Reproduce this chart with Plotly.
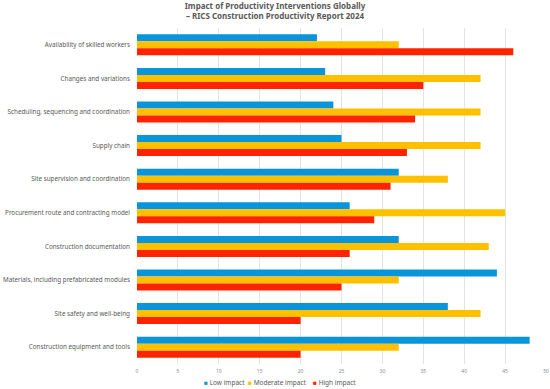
import plotly.graph_objects as go

categories = [
    "Availability of skilled workers",
    "Changes and variations",
    "Scheduling, sequencing and coordination",
    "Supply chain",
    "Site supervision and coordination",
    "Procurement route and contracting model",
    "Construction documentation",
    "Materials, including prefabricated modules",
    "Site safety and well-being",
    "Construction equipment and tools",
]
low_impact = [22, 23, 24, 25, 32, 26, 32, 44, 38, 48]
moderate_impact = [32, 42, 42, 42, 38, 45, 43, 32, 42, 32]
high_impact = [46, 35, 34, 33, 31, 29, 26, 25, 20, 20]
x_ticks = [0, 5, 10, 15, 20, 25, 30, 35, 40, 45, 50]
series_names = ["Low impact", "Moderate impact", "High impact"]
series_colors = ["#0A95DA", "#FFC000", "#FF2300"]

W, H = 550, 389
ML, MR, MT, MB = 137, 4, 28, 25
font_family = "Noto Sans, Open Sans, sans-serif"
fig = go.Figure()
for name, vals, col in zip(series_names, [low_impact, moderate_impact, high_impact], series_colors):
    fig.add_trace(go.Bar(y=categories, x=vals, name=name, orientation="h",
                         marker=dict(color=col, line=dict(width=0)), showlegend=False))

# compact legend (square swatch + label), centred under the chart
legend_left_px = [202, 246, 311]
plot_w = W - ML - MR
for name, col, px in zip(series_names, series_colors, legend_left_px):
    fig.add_annotation(
        text=f"<span style='color:{col}'>■</span> {name}",
        x=(px - ML) / plot_w, xref="x domain", xanchor="left",
        y=-0.054, yref="y domain", yanchor="middle", showarrow=False,
        font=dict(size=6.5, color="#595959", family=font_family),
    )

fig.update_layout(
    width=W, height=H,
    barmode="group", bargap=0.374, bargroupgap=0,
    plot_bgcolor="white", paper_bgcolor="white",
    margin=dict(l=ML, r=MR, t=MT, b=MB, autoexpand=False),
    font=dict(family=font_family, color="#595959", size=7),
    showlegend=False,
    title=dict(
        text="<b>Impact of Productivity Interventions Globally<br>– RICS Construction Productivity Report 2024</b>",
        x=0.5, xref="container", xanchor="center",
        y=0.977, yref="container", yanchor="top",
        font=dict(size=8, color="#595959", family=font_family),
    ),
    xaxis=dict(range=[0, 50], tickvals=x_ticks, showgrid=True, gridcolor="#E3E3E3",
               gridwidth=1, zeroline=False, tickfont=dict(size=5, color="#8c8c8c"),
               ticks="", fixedrange=True, automargin=False, ticklabelstandoff=3),
    yaxis=dict(autorange="reversed", showgrid=False, ticks="", ticklen=0,
               tickfont=dict(size=6.3, color="#595959"), showline=False,
               automargin=False, ticklabelstandoff=6, fixedrange=True),
)

fig.write_html("out.html", config={"displayModeBar": False},
               post_script="document.body.style.margin='0';")
